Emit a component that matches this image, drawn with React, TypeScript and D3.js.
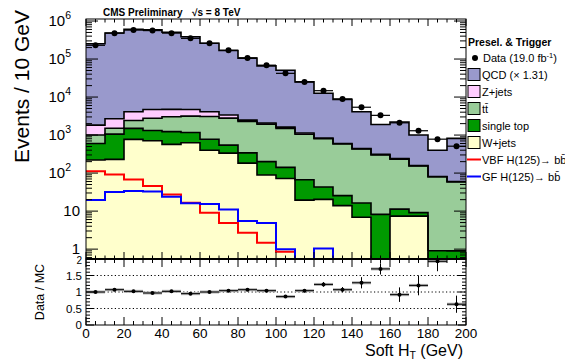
import React from 'react';
import * as d3 from 'd3';

// Bin low edges (GeV), bin width 10 GeV
const binLow = [0, 10, 20, 30, 40, 50, 60, 70, 80, 90, 100, 110, 120, 130, 140, 150, 160, 170, 180, 190];
const binWidth = 10;

const dataVals = [2.3e5, 4.8e5, 5.8e5, 5.6e5, 4.8e5, 3.5e5, 2.6e5, 1.7e5, 1.07e5, 6.9e4, 4.2e4, 2.5e4, 1.47e4, 8.9e3, 5.4e3, 3.3e3, 2.1e3, 1.3e3, 780, 510];

const wjets = [220, 230, 770, 710, 570, 630, 400, 335, 183, 89, 72, 19.5, 20.4, 13.9, 6.9, 0, 7.4, 7.4, 0, 0];
const singleTop = [380, 830, 730, 610, 660, 540, 380, 210, 157, 111, 69, 47.5, 22.6, 11.6, 9.4, 8.2, 3.9, 1.7, 0.91, 0.9];
const ttbar = [400, 450, 910, 1440, 1800, 1990, 2290, 2245, 1940, 1740, 1360, 983, 757, 555, 414, 292, 222, 144, 79, 58];
const zjets = [830, 1170, 1690, 1940, 1720, 1540, 1030, 580, 190, 140, 120, 80, 30, 20, 10, 10, 7, 4, 1, 1];
const qcd = [2.5e5, 4.8e5, 6.0e5, 5.85e5, 5.0e5, 3.8e5, 2.55e5, 1.65e5, 1.03e5, 6.4e4, 4.9e4, 2.39e4, 1.18e4, 8.1e3, 3.66e3, 1.59e3, 1.96e3, 843, 319, 760];

const vbf: (number | null)[] = [112, 92, 68, 45.5, 27.5, 16.5, 9, 4.9, 2.7, 1.47, 0.85, 0.3, 0.3, 0.3, 0.3, null, null, null, null, null];
const gf: (number | null)[] = [19.5, 32, 34, 33, 24, 16, 15.3, 11, 5.5, 4.9, 1.0, 0.3, 1.04, 0.3, 0.3, null, null, null, null, null];

const ratio = [1.0, 1.07, 1.02, 0.97, 1.02, 0.95, 1.0, 1.04, 1.07, 1.04, 0.86, 1.04, 1.23, 1.07, 1.28, 1.70, 0.92, 1.2, 1.93, 0.63];
const ratioErr = [0.01, 0.01, 0.01, 0.01, 0.01, 0.01, 0.01, 0.01, 0.015, 0.02, 0.04, 0.05, 0.07, 0.08, 0.17, 0.17, 0.22, 0.3, 0.3, 0.26];

const xTickLabels = [0, 20, 40, 60, 80, 100, 120, 140, 160, 180, 200];
const yDecades = [1, 10, 100, 1000, 1e4, 1e5, 1e6];
const ratioTickLabels = [0, 0.5, 1, 1.5, 2];

const FONT = "'Liberation Sans', Arial, Helvetica, sans-serif";
const COLORS = {
  qcd: '#9999cc',
  zjets: '#ffccff',
  ttbar: '#99cc99',
  singleTop: '#009900',
  wjets: '#ffffcc',
  vbf: '#ff0000',
  gf: '#0000ff',
};

const X0 = 86, X1 = 466, MT = 19, MB = 259, RB = 325;
const YMIN = 0.55, YMAX = 1.13e6;

export default function App() {
  const x = d3.scaleLinear().domain([0, 200]).range([X0, X1]);
  const y = d3.scaleLog().domain([YMIN, YMAX]).range([MB, MT]).clamp(true);
  const yr = d3.scaleLinear().domain([0, 2]).range([RB, MB]).clamp(true);
  const yy = (v: number) => y(Math.max(v, YMIN));

  const keys = ['wjets', 'singleTop', 'ttbar', 'zjets', 'qcd'];
  const rows = binLow.map((lo, i) => ({
    lo,
    wjets: wjets[i],
    singleTop: singleTop[i],
    ttbar: ttbar[i],
    zjets: zjets[i],
    qcd: qcd[i],
  }));
  const series = d3.stack<any>().keys(keys)(rows);

  const area = d3.area<[number, number, number]>()
    .x(d => d[0]).y0(d => d[1]).y1(d => d[2]);
  const line = d3.line<[number, number]>().x(d => d[0]).y(d => d[1]);

  const layerArea = (s: any) => {
    const pts: [number, number, number][] = [];
    s.forEach((d: any, i: number) => {
      const a = x(binLow[i]), b = x(binLow[i] + binWidth);
      pts.push([a, yy(d[0]), yy(d[1])], [b, yy(d[0]), yy(d[1])]);
    });
    return area(pts) || '';
  };
  const stepLine = (vals: (number | null)[]) => {
    const pts: [number, number][] = [];
    vals.forEach((v, i) => {
      if (v == null) return;
      const a = x(binLow[i]), b = x(binLow[i] + binWidth);
      pts.push([a, yy(v)], [b, yy(v)]);
    });
    return line(pts) || '';
  };

  // Ticks
  const xMinor = d3.range(0, 201, 5);
  const logTicks: number[] = [];
  yDecades.forEach(dec => { for (let k = 1; k <= 9; k++) { const v = dec * k; if (v >= YMIN && v <= YMAX) logTicks.push(v); } });
  [0.6, 0.7, 0.8, 0.9].forEach(v => logTicks.push(v));
  const rMinor = d3.range(0, 2.0001, 0.1);

  const legendItems = [
    { type: 'box', color: COLORS.qcd, label: 'QCD (× 1.31)' },
    { type: 'box', color: COLORS.zjets, label: 'Z+jets' },
    { type: 'box', color: COLORS.ttbar, label: 'tt\u0304' },
    { type: 'box', color: COLORS.singleTop, label: 'single top' },
    { type: 'box', color: COLORS.wjets, label: 'W+jets' },
    { type: 'line', color: COLORS.vbf, label: 'VBF H(125)→ bb\u0304' },
    { type: 'line', color: COLORS.gf, label: 'GF H(125)→ bb\u0304' },
  ];

  return (
    <svg width={565} height={359} style={{ position: 'absolute', left: 0, top: 0, background: '#fff' }} fontFamily={FONT}>
      <rect x={0} y={0} width={565} height={359} fill="#fff" />
      <defs>
        <clipPath id="mainclip"><rect x={X0} y={MT} width={X1 - X0} height={MB - MT} /></clipPath>
        <clipPath id="ratioclip"><rect x={X0} y={MB} width={X1 - X0} height={RB - MB} /></clipPath>
      </defs>

      <g clipPath="url(#mainclip)">
        {series.map((s, k) => (
          <path key={k} d={layerArea(s)} fill={(COLORS as any)[keys[k]]} stroke="none" />
        ))}
        {series.map((s, k) => (
          <path key={'l' + k} d={stepLine(s.map((d: any) => d[1]))} fill="none" stroke="#000" strokeWidth={1.6} />
        ))}
        <path d={stepLine(vbf)} fill="none" stroke={COLORS.vbf} strokeWidth={2} />
        <path d={stepLine(gf)} fill="none" stroke={COLORS.gf} strokeWidth={2} />
        {dataVals.map((v, i) => (
          <g key={'d' + i}>
            <line x1={x(binLow[i])} x2={x(binLow[i] + binWidth)} y1={yy(v)} y2={yy(v)} stroke="#000" strokeWidth={1.2} />
            <circle cx={x(binLow[i] + binWidth / 2)} cy={yy(v)} r={3} fill="#000" />
          </g>
        ))}
      </g>

      {/* main frame */}
      <rect x={X0} y={MT} width={X1 - X0} height={MB - MT} fill="none" stroke="#000" strokeWidth={1} />
      {xMinor.map(v => {
        const major = v % 20 === 0;
        const L = major ? 7 : 3.5;
        return (
          <g key={'xt' + v} stroke="#000" strokeWidth={1}>
            <line x1={x(v)} x2={x(v)} y1={MT} y2={MT + L} />
            <line x1={x(v)} x2={x(v)} y1={MB} y2={MB - L} />
          </g>
        );
      })}
      {logTicks.map((v, i) => {
        const major = yDecades.includes(v);
        const L = major ? 12 : 6;
        return (
          <g key={'yt' + i} stroke="#000" strokeWidth={1}>
            <line x1={X0} x2={X0 + L} y1={y(v)} y2={y(v)} />
            <line x1={X1} x2={X1 - L} y1={y(v)} y2={y(v)} />
          </g>
        );
      })}
      {yDecades.map((v, i) => {
        const exp = Math.round(Math.log10(v));
        return (
          <text key={'yl' + i} x={exp >= 2 ? 71 : 80} y={y(v) + 4.5} fontSize={15} textAnchor="end" fill="#000">
            {exp === 0 ? '1' : '10'}
            {exp >= 2 ? <tspan dy={-7} fontSize={10.5}>{exp}</tspan> : null}
          </text>
        );
      })}

      {/* ratio panel */}
      <g clipPath="url(#ratioclip)">
        {[0.5, 1, 1.5].map(v => (
          <line key={'g' + v} x1={X0} x2={X1} y1={yr(v)} y2={yr(v)} stroke="#000" strokeWidth={1} strokeDasharray="1.2,2.4" />
        ))}
        {ratio.map((r, i) => {
          const cx = x(binLow[i] + binWidth / 2);
          return (
            <g key={'r' + i}>
              <rect x={x(binLow[i])} y={yr(r) - 1.5} width={x(binLow[i] + binWidth) - x(binLow[i])} height={3} fill="#b0b0b0" />
              <line x1={x(binLow[i])} x2={x(binLow[i] + binWidth)} y1={yr(r)} y2={yr(r)} stroke="#000" strokeWidth={1} />
              <line x1={cx} x2={cx} y1={yr(r - ratioErr[i])} y2={yr(r + ratioErr[i])} stroke="#000" strokeWidth={1} />
              <circle cx={cx} cy={yr(r)} r={2} fill="#000" />
            </g>
          );
        })}
      </g>
      <rect x={X0} y={MB} width={X1 - X0} height={RB - MB} fill="none" stroke="#000" strokeWidth={1} />
      <line x1={X0} x2={X1} y1={MB} y2={MB} stroke="#000" strokeWidth={2} />
      {xMinor.map(v => {
        const major = v % 20 === 0;
        const L = major ? 8 : 4;
        return (
          <g key={'rxt' + v} stroke="#000" strokeWidth={1}>
            <line x1={x(v)} x2={x(v)} y1={RB} y2={RB - L} />
            <line x1={x(v)} x2={x(v)} y1={MB} y2={MB + L} />
          </g>
        );
      })}
      {rMinor.map((v, i) => {
        const major = Math.abs(v * 2 - Math.round(v * 2)) < 1e-6;
        const L = major ? 8 : 4;
        return (
          <g key={'ryt' + i} stroke="#000" strokeWidth={1}>
            <line x1={X0} x2={X0 + L} y1={yr(v)} y2={yr(v)} />
            <line x1={X1} x2={X1 - L} y1={yr(v)} y2={yr(v)} />
          </g>
        );
      })}
      {ratioTickLabels.map(v => (
        <text key={'rl' + v} x={82} y={yr(v) + (v === 2 ? 5 : 4)} fontSize={v === 2 ? 10 : 11.5} textAnchor="end" fill="#000">{String(v)}</text>
      ))}
      {xTickLabels.map(v => (
        <text key={'xl' + v} x={x(v)} y={337.5} fontSize={13.5} textAnchor="middle" fill="#000">{v}</text>
      ))}

      {/* titles */}
      <text x={463} y={355.5} fontSize={16} textAnchor="end" fill="#000">
        Soft H<tspan fontSize={10.5} dy={3}>T</tspan><tspan dy={-3}> (GeV)</tspan>
      </text>
      <text transform="translate(29,10) rotate(-90)" fontSize={21} textAnchor="end" fill="#000">Events / 10 GeV</text>
      <text transform="translate(44,292) rotate(-90)" fontSize={12.5} textAnchor="middle" fill="#000">Data / MC</text>

      <text x={103} y={16} fontSize={10} fontWeight="bold" fill="#000">CMS Preliminary</text>
      <text x={192} y={16} fontSize={10} fontWeight="bold" fill="#000">√s = 8 TeV</text>

      {/* legend */}
      <text x={468} y={45.5} fontSize={10.5} fontWeight="bold" fill="#000">Presel. &amp; Trigger</text>
      <circle cx={475} cy={58} r={3} fill="#000" />
      <text x={483} y={62} fontSize={11} fill="#000">Data (19.0 fb<tspan dy={-4} fontSize={7.5}>-1</tspan><tspan dy={4}>)</tspan></text>
      {legendItems.map((it, i) => {
        const cy = 74.5 + i * 17;
        return (
          <g key={'lg' + i}>
            {it.type === 'box'
              ? <rect x={468} y={cy - 6} width={12} height={12} fill={it.color} stroke="#000" strokeWidth={1} />
              : <line x1={467} x2={481} y1={cy} y2={cy} stroke={it.color} strokeWidth={2} />}
            <text x={482} y={cy + 4} fontSize={11} fill="#000">{it.label}</text>
          </g>
        );
      })}
    </svg>
  );
}
